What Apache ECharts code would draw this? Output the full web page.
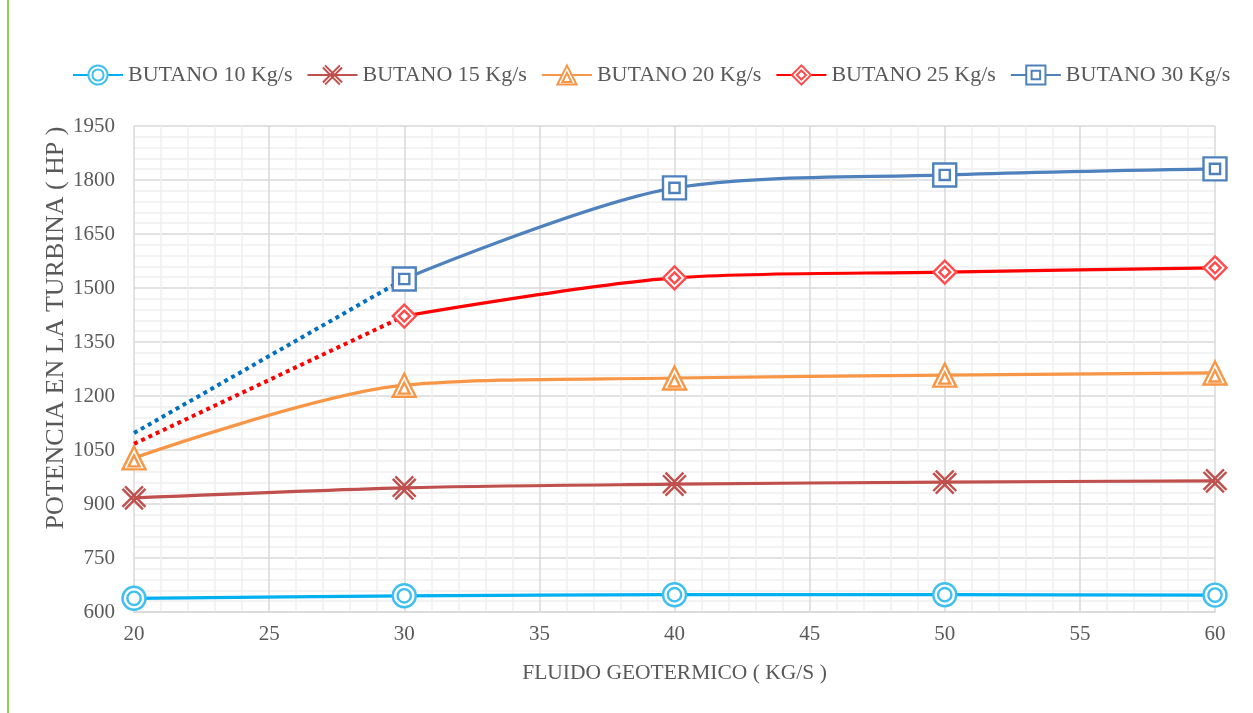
<!DOCTYPE html>
<html><head><meta charset="utf-8">
<script src="https://cdn.jsdelivr.net/npm/echarts@6/dist/echarts.min.js"></script>
<style>html,body{margin:0;padding:0;background:#fff}#c{width:1253px;height:713px}</style>
</head><body><div id="c"></div>
<script>
const xFlow = [20, 30, 40, 50, 60];
const names = ['BUTANO 10 Kg/s','BUTANO 15 Kg/s','BUTANO 20 Kg/s','BUTANO 25 Kg/s','BUTANO 30 Kg/s'];
const but10 = [638, 645, 648, 648, 647];
const but15 = [917, 945, 955, 961, 964];
const but20 = [1028, 1230, 1250, 1258, 1264];
const but25 = [1067, 1422, 1528, 1544, 1556];
const but30 = [1097, 1525, 1778, 1814, 1831];
const yTicks = {min: 600, max: 1950, step: 150};
const xTicks = {min: 20, max: 60, step: 5};
const xTitle = 'FLUIDO GEOTERMICO ( KG/S )';
const yTitle = 'POTENCIA EN LA TURBINA ( HP )';

const colors = ['#00B0F0','#C0504D','#F79646','#FF0000','#4F81BD'];
const markColors = ['#3FC0EE','#C0504D','#F79646','#FF4B4B','#4F81BD'];
const dotColors = {3:'#FF0000', 4:'#0070C0'};
const symbols = [
  'path://M10,0.5 A9.5,9.5 0 1 1 9.99,0.5 Z M10,4.5 A5.5,5.5 0 1 1 9.99,4.5 Z',
  'path://M1,3 L17,19 M3,1 L19,17 M1,17 L17,1 M3,19 L19,3',
  'path://M10,0.5 L19.5,19.5 L0.5,19.5 Z M10,8 L14.5,17 L5.5,17 Z',
  'path://M10,0.5 L19.5,10 L10,19.5 L0.5,10 Z M10,5.5 L14.5,10 L10,14.5 L5.5,10 Z',
  'path://M1,1 L19,1 L19,19 L1,19 Z M6,6 L14,6 L14,14 L6,14 Z'
];
const all = [but10, but15, but20, but25, but30];
const pairs = (arr, from) => xFlow.map((x,i)=>[x, arr[i]]).slice(from);

const series = [];
all.forEach((arr, i) => {
  const start = (i >= 3) ? 1 : 0;
  series.push({
    name: names[i], type: 'line', smooth: 0.3,
    data: pairs(arr, start),
    symbol: symbols[i], symbolSize: 23,
    lineStyle: {color: colors[i], width: 3.2},
    itemStyle: {color: '#fff', borderColor: markColors[i], borderWidth: 2.4},
    z: 3 + i
  });
  if (i >= 3) {
    series.push({
      name: names[i] + ' (ext)', type: 'line', smooth: false,
      data: pairs(arr, 0).slice(0, 2),
      symbol: 'none',
      lineStyle: {color: dotColors[i], width: 4, type: [4, 4], cap: 'butt'},
      z: 2
    });
  }
});

const chart = echarts.init(document.getElementById('c'), null, {renderer: 'canvas'});
chart.setOption({
  animation: false,
  backgroundColor: '#fff',
  textStyle: {fontFamily: 'Liberation Serif'},
  legend: {
    data: names.map(n => ({name: n})),
    top: 59, left: 67, itemWidth: 50, itemHeight: 24, itemGap: 14,
    textStyle: {fontFamily: 'Liberation Serif', fontSize: 22, color: '#595959'}
  },
  grid: {left: 134, right: 38, top: 126, bottom: 101, containLabel: false},
  xAxis: {
    type: 'value', min: xTicks.min, max: xTicks.max, interval: xTicks.step,
    name: xTitle, nameLocation: 'middle', nameGap: 50,
    nameTextStyle: {fontFamily: 'Liberation Serif', fontSize: 21.5, color: '#595959'},
    axisLine: {show: true, lineStyle: {color: '#D9D9D9', width: 1.5}},
    axisTick: {show: false},
    axisLabel: {fontFamily: 'Liberation Serif', fontSize: 21, color: '#595959', margin: 12},
    splitLine: {show: true, lineStyle: {color: '#D9D9D9', width: 1.5}},
    minorTick: {show: false, splitNumber: 5},
    minorSplitLine: {show: true, lineStyle: {color: '#EFEFEF', width: 1.5}}
  },
  yAxis: {
    type: 'value', min: yTicks.min, max: yTicks.max, interval: yTicks.step,
    axisLine: {show: false},
    axisTick: {show: false},
    axisLabel: {fontFamily: 'Liberation Serif', fontSize: 21, color: '#595959', margin: 19,
                formatter: v => String(v)},
    splitLine: {show: true, lineStyle: {color: '#D9D9D9', width: 1.5}},
    minorTick: {show: false, splitNumber: 5},
    minorSplitLine: {show: true, lineStyle: {color: '#EFEFEF', width: 1.5}}
  },
  graphic: [{
    type: 'line', shape: {x1: 8, y1: 0, x2: 8, y2: 713},
    style: {stroke: '#92D050', lineWidth: 2}
  }, {
    type: 'text', x: 56, y: 328, rotation: Math.PI / 2,
    style: {text: yTitle, fontFamily: 'Liberation Serif', fontSize: 26, fill: '#595959',
            align: 'center', verticalAlign: 'middle'}
  }],
  series: series
});
</script></body></html>
